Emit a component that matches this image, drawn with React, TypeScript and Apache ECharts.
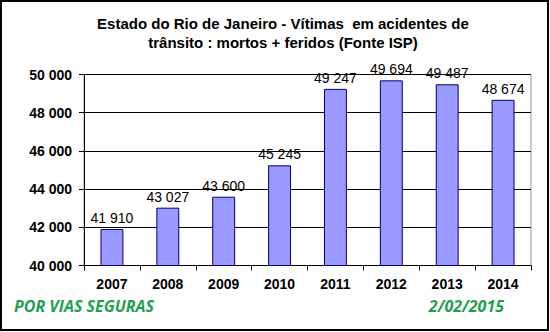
import React, { useEffect, useRef } from "react";
import * as echarts from "echarts";

const categories = ["2007", "2008", "2009", "2010", "2011", "2012", "2013", "2014"];
const values = [41910, 43027, 43600, 45245, 49247, 49694, 49487, 48674];
const titleText = "Estado do Rio de Janeiro - Vítimas  em acidentes de\ntrânsito : mortos + feridos (Fonte ISP)";
const footerLeft = "POR VIAS SEGURAS";
const footerRight = "2/02/2015";

const fmt = (v: number) => {
  const s = String(Math.round(v));
  return s.replace(/\B(?=(\d{3})+(?!\d))/g, " ");
};

export default function App() {
  const ref = useRef<HTMLDivElement>(null);
  useEffect(() => {
    const chart = echarts.init(ref.current!, null, { renderer: "svg" });
    chart.setOption({
      animation: false,
      backgroundColor: "#ffffff",
      title: {
        text: titleText,
        left: 278,
        top: 9,
        textAlign: "center",
        textStyle: {
          fontFamily: "Arial, Liberation Sans",
          fontSize: 15,
          fontWeight: "bold",
          color: "#000",
          lineHeight: 19,
        },
      },
      grid: { left: 84, right: 19, top: 74.5, bottom: 66.5 },
      xAxis: {
        type: "category",
        data: categories,
        axisLine: { lineStyle: { color: "#000" } },
        axisTick: { show: true, alignWithLabel: false, lineStyle: { color: "#000" }, length: 5 },
        axisLabel: {
          fontFamily: "Arial, Liberation Sans",
          fontSize: 14,
          fontWeight: "bold",
          color: "#000",
          margin: 11,
        },
      },
      yAxis: {
        type: "value",
        min: 40000,
        max: 50000,
        interval: 2000,
        axisLine: { show: true, lineStyle: { color: "#000" } },
        axisTick: { show: true, lineStyle: { color: "#000" }, length: 5 },
        splitLine: { lineStyle: { color: "#000", width: 1 } },
        axisLabel: {
          fontFamily: "Arial, Liberation Sans",
          fontSize: 14,
          fontWeight: "bold",
          color: "#000",
          margin: 12,
          formatter: (v: number) => fmt(v),
        },
      },
      series: [
        {
          type: "bar",
          data: values,
          barWidth: "41%",
          itemStyle: { color: "#9999ff", borderColor: "#000066", borderWidth: 1 },
          label: {
            show: true,
            position: "top",
            distance: 4,
            fontFamily: "Arial, Liberation Sans",
            fontSize: 14,
            color: "#000",
            formatter: (p: any) => fmt(p.value),
          },
        },
      ],
      graphic: [
        {
          type: "rect",
          shape: { x: 84, y: 74.5, width: 447, height: 191 },
          style: { fill: "none", stroke: "#999", lineWidth: 1 },
          z: -1,
          silent: true,
        },
        {
          type: "rect",
          shape: { x: 1, y: 1, width: 547, height: 329 },
          style: { fill: "none", stroke: "#000", lineWidth: 2 },
          silent: true,
        },
        {
          type: "text",
          left: 14,
          top: 298,
          style: {
            text: footerLeft,
            fontFamily: "Open Sans, Liberation Sans, Arial",
            fontSize: 16,
            fontWeight: "bold",
            fontStyle: "italic",
            fill: "#1fa050",
          },
        },
        {
          type: "text",
          right: 46,
          top: 298,
          style: {
            text: footerRight,
            fontFamily: "Open Sans, Liberation Sans, Arial",
            fontSize: 16,
            fontWeight: "bold",
            fontStyle: "italic",
            fill: "#1fa050",
          },
        },
      ],
    });
    return () => chart.dispose();
  }, []);
  return <div ref={ref} style={{ width: 550, height: 332, position: "absolute", left: 0, top: 0 }} />;
}
